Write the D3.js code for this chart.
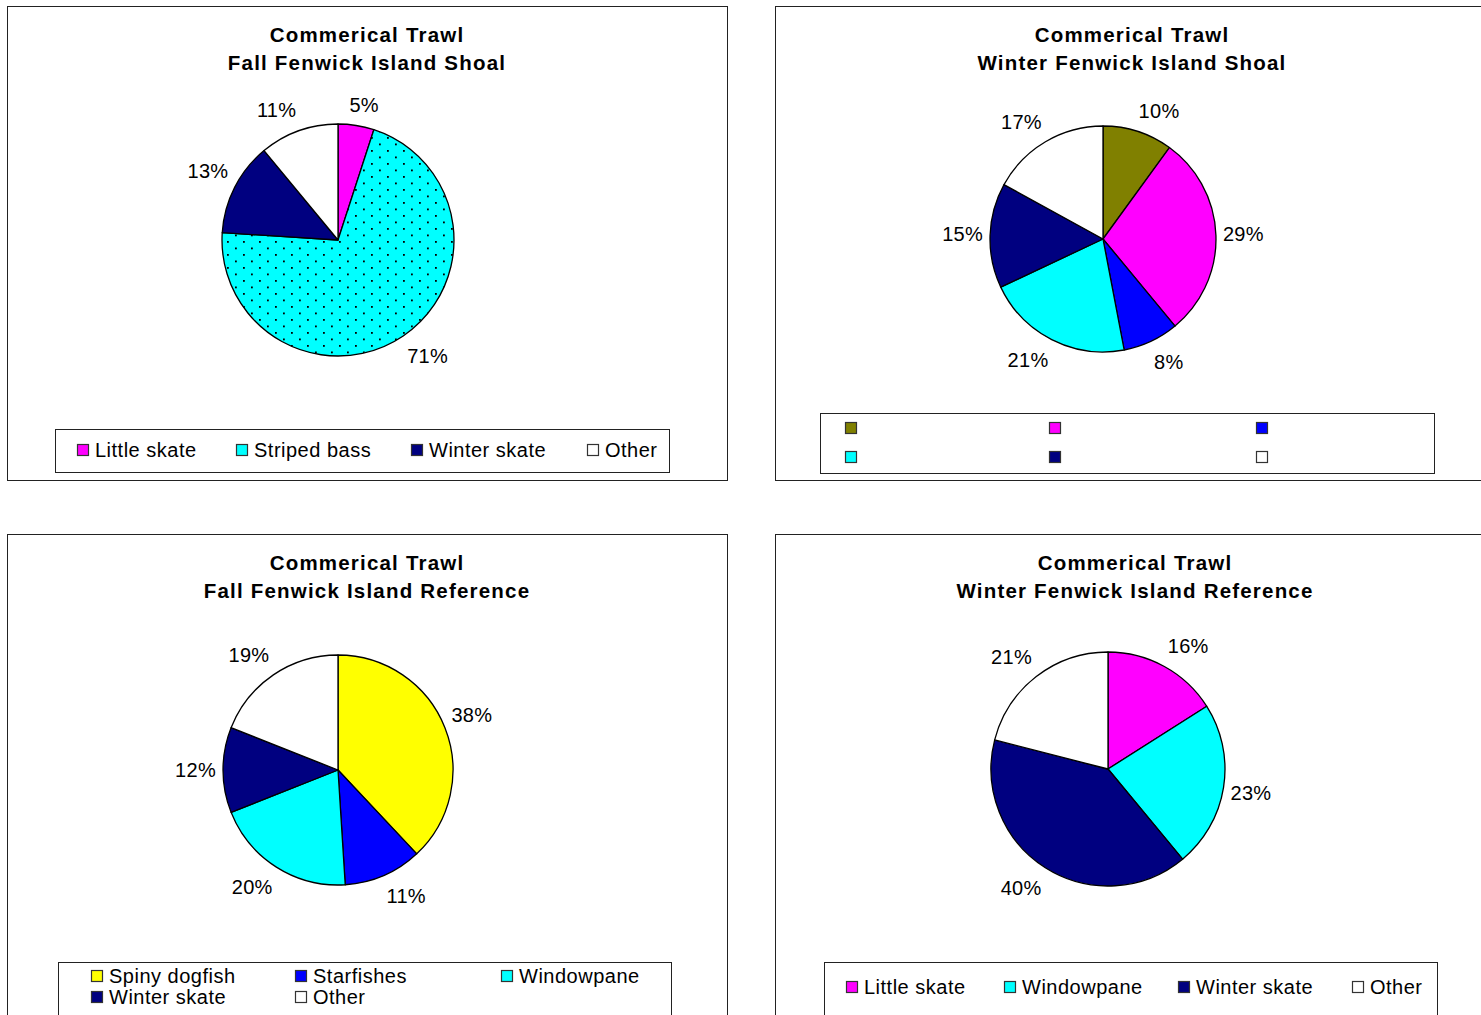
<!DOCTYPE html>
<html>
<head>
<meta charset="utf-8">
<script src="https://cdn.jsdelivr.net/npm/d3@7"></script>
<style>
  body { margin: 0; background: #fff; }
  svg { display: block; font-family: "Liberation Sans", Arial, sans-serif; }
</style>
</head>
<body>
<svg id="chart" width="1481" height="1015"></svg>
<script>

// chart data
var titles = [
    ["Commerical Trawl", "Fall Fenwick Island Shoal"],
    ["Commerical Trawl", "Winter Fenwick Island Shoal"],
    ["Commerical Trawl", "Fall Fenwick Island Reference"],
    ["Commerical Trawl", "Winter Fenwick Island Reference"]
];

var fallShoalNames = ["Little skate", "Striped bass", "Winter skate", "Other"];
var fallShoalValues = [5, 71, 13, 11];
var fallShoalColors = ["#ff00ff", "#00ffff", "#000080", "#ffffff"];

var winterShoalNames = ["", "", "", "", "", ""];   // legend has no text
var winterShoalValues = [10, 29, 8, 21, 15, 17];
var winterShoalColors = ["#808000", "#ff00ff", "#0000ff", "#00ffff", "#000080", "#ffffff"];

var fallRefNames = ["Spiny dogfish", "Starfishes", "Windowpane", "Winter skate", "Other"];
var fallRefValues = [38, 11, 20, 12, 19];
var fallRefColors = ["#ffff00", "#0000ff", "#00ffff", "#000080", "#ffffff"];

var winterRefNames = ["Little skate", "Windowpane", "Winter skate", "Other"];
var winterRefValues = [16, 23, 40, 21];
var winterRefColors = ["#ff00ff", "#00ffff", "#000080", "#ffffff"];

// layout of the four panels
var panels = [
    { names: fallShoalNames, values: fallShoalValues, colors: fallShoalColors, dotted: 1,
      box: [7, 6, 720, 474], tx: 367, ty: 42, cx: 338, cy: 240, r: 116,
      legend: [55, 429, 614, 43], items: [[83, 450], [242, 450], [417, 450], [593, 450]] },
    { names: winterShoalNames, values: winterShoalValues, colors: winterShoalColors, dotted: -1,
      box: [775, 6, 760, 474], tx: 1132, ty: 42, cx: 1103, cy: 239, r: 113,
      legend: [820, 413, 614, 60], items: [[851, 428], [1055, 428], [1262, 428], [851, 457], [1055, 457], [1262, 457]] },
    { names: fallRefNames, values: fallRefValues, colors: fallRefColors, dotted: -1,
      box: [7, 534, 720, 520], tx: 367, ty: 570, cx: 338, cy: 770, r: 115,
      legend: [58, 962, 613, 80], items: [[97, 976], [301, 976], [507, 976], [97, 997], [301, 997]] },
    { names: winterRefNames, values: winterRefValues, colors: winterRefColors, dotted: -1,
      box: [775, 534, 760, 520], tx: 1135, ty: 570, cx: 1108, cy: 769, r: 117,
      legend: [824, 962, 613, 80], items: [[852, 987], [1010, 987], [1184, 987], [1358, 987]] }
];

var svg = d3.select("#chart");

// dotted fill used by the striped bass slice
var defs = svg.append("defs");
var pat = defs.append("pattern")
    .attr("id", "dots")
    .attr("patternUnits", "userSpaceOnUse")
    .attr("width", 16).attr("height", 13);
pat.append("rect").attr("width", 16).attr("height", 13).attr("fill", "#00ffff");
pat.append("rect").attr("x", 1).attr("y", 1).attr("width", 1.8).attr("height", 1.8).attr("fill", "#000");
pat.append("rect").attr("x", 9).attr("y", 7.5).attr("width", 1.8).attr("height", 1.8).attr("fill", "#000");

var pie = d3.pie().sort(null).value(function (d) { return d; });

panels.forEach(function (p, pi) {

    var g = svg.append("g");

    g.append("rect")
        .attr("x", p.box[0] + 0.5).attr("y", p.box[1] + 0.5)
        .attr("width", p.box[2]).attr("height", p.box[3])
        .attr("fill", "#fff").attr("stroke", "#222").attr("stroke-width", 1);

    var title = g.append("text")
        .attr("text-anchor", "middle")
        .attr("font-size", "20.5px")
        .attr("font-weight", "bold")
        .attr("letter-spacing", "1.2px");
    titles[pi].forEach(function (line, i) {
        title.append("tspan").attr("x", p.tx).attr("y", p.ty + i * 28).text(line);
    });

    var arcs = pie(p.values);
    var arc = d3.arc().innerRadius(0).outerRadius(p.r);
    var totalV = d3.sum(p.values);

    var pg = g.append("g").attr("transform", "translate(" + p.cx + "," + p.cy + ")");

    pg.selectAll("path")
        .data(arcs)
        .enter().append("path")
        .attr("d", arc)
        .attr("fill", function (d, i) { return i === p.dotted ? "url(#dots)" : p.colors[i]; })
        .attr("stroke", "#000")
        .attr("stroke-width", 1.3)
        .attr("stroke-linejoin", "round");

    // percent labels, placed just outside the rim
    pg.selectAll("text.pct")
        .data(arcs)
        .enter().append("text")
        .attr("class", "pct")
        .attr("font-size", "20px")
        .attr("letter-spacing", "0.3px")
        .attr("text-anchor", "middle")
        .attr("dominant-baseline", "central")
        .text(function (d) { return d3.format(".0%")(d.data / totalV); })
        .each(function (d) {
            var a = (d.startAngle + d.endAngle) / 2;
            var w = this.getComputedTextLength();
            var s = Math.sin(a), c = -Math.cos(a);
            var k = p.r + 7;
            var x = s * k + (w / 2) * Math.max(-1, Math.min(1, 3 * s));
            var y = c * k + 14 * Math.max(-1, Math.min(1, 2 * c));
            d3.select(this).attr("x", x).attr("y", y);
        });

    // legend
    var lg = g.append("g");
    lg.append("rect")
        .attr("x", p.legend[0] + 0.5).attr("y", p.legend[1] + 0.5)
        .attr("width", p.legend[2]).attr("height", p.legend[3])
        .attr("fill", "#fff").attr("stroke", "#222").attr("stroke-width", 1);

    p.items.forEach(function (pos, i) {
        lg.append("rect")
            .attr("x", pos[0] - 5.5).attr("y", pos[1] - 5.5)
            .attr("width", 11).attr("height", 11)
            .attr("fill", i === p.dotted ? "url(#dots)" : p.colors[i])
            .attr("stroke", "#333").attr("stroke-width", 1.2);
        lg.append("text")
            .attr("x", pos[0] + 12).attr("y", pos[1])
            .attr("dominant-baseline", "central")
            .attr("font-size", "20px")
            .attr("letter-spacing", "0.5px")
            .text(p.names[i]);
    });
});

</script>
</body>
</html>
